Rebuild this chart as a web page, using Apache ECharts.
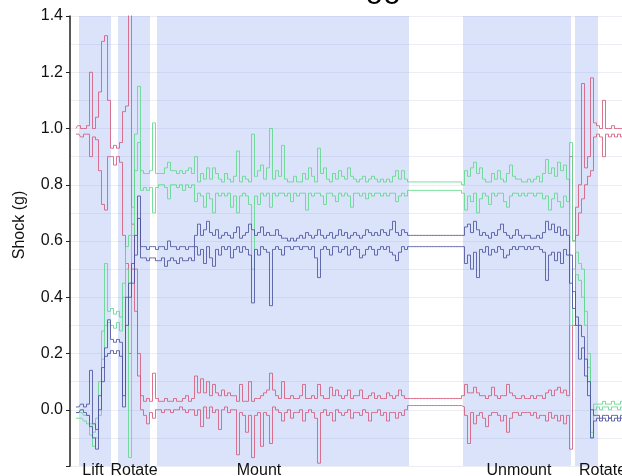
<!DOCTYPE html>
<html>
<head>
<meta charset="utf-8">
<script src="https://cdn.jsdelivr.net/npm/echarts@6/dist/echarts.min.js"></script>
<style>
  html, body { margin: 0; padding: 0; background: #fff; }
  #chart { width: 622px; height: 476px; }
</style>
</head>
<body>
<div id="chart"></div>
<script>
// sample clock: one sample every 3 time units, first one at t = 6
const T0 = 6
const DT = 3

// phases of the shock logger run: [name, start, end]
const phases = [
  ['Lift', 9, 41],
  ['Rotate', 48, 80],
  ['Mount', 87, 339],
  ['Unmount', 393, 501],
  ['Rotate', 505, 528]
]

// per-axis window max / min (g)
const redHigh = [
  1.00, 1.01, 1.00, 1.00, 1.01, 1.20, 1.00, 1.04, 1.13, 1.31,
  1.33, 1.10, 0.93, 0.94, 0.93, 0.95, 1.06, 1.08, 1.42, 0.66,
  0.50, 0.20, 0.05, 0.03, 0.04, 0.03, 0.13, 0.04, 0.03, 0.03,
  0.04, 0.03, 0.03, 0.04, 0.03, 0.03, 0.04, 0.05, 0.03, 0.04,
  0.12, 0.06, 0.11, 0.06, 0.10, 0.05, 0.09, 0.06, 0.05, 0.07,
  0.05, 0.06, 0.05, 0.05, 0.03, 0.09, 0.03, 0.03, 0.10, 0.03,
  0.04, 0.04, 0.05, 0.06, 0.07, 0.13, 0.07, 0.05, 0.04, 0.10,
  0.04, 0.04, 0.05, 0.04, 0.04, 0.05, 0.09, 0.04, 0.04, 0.05,
  0.04, 0.09, 0.05, 0.04, 0.04, 0.08, 0.05, 0.07, 0.05, 0.04,
  0.05, 0.07, 0.04, 0.05, 0.05, 0.07, 0.04, 0.04, 0.05, 0.06,
  0.04, 0.05, 0.04, 0.04, 0.06, 0.05, 0.04, 0.05, 0.07, 0.05,
  0.04, 0.04, 0.04, 0.04, 0.04, 0.04, 0.04, 0.04, 0.04, 0.04,
  0.04, 0.04, 0.04, 0.04, 0.04, 0.04, 0.04, 0.04, 0.04, 0.05,
  0.09, 0.06, 0.06, 0.08, 0.06, 0.05, 0.05, 0.04, 0.05, 0.08,
  0.05, 0.04, 0.05, 0.05, 0.09, 0.06, 0.05, 0.04, 0.04, 0.05,
  0.04, 0.04, 0.05, 0.04, 0.05, 0.05, 0.04, 0.06, 0.07, 0.05,
  0.07, 0.08, 0.06, 0.07, 0.05, 0.90, 0.60, 0.72, 0.80, 1.16,
  0.86, 0.90, 1.18, 1.02, 1.01, 1.00, 1.10, 1.00, 1.00, 1.01,
  1.00, 1.00, 1.00
]
const redLow = [
  0.98, 0.98, 0.97, 0.98, 0.98, 0.90, 0.97, 0.96, 0.85, 0.73,
  0.71, 0.90, 0.90, 0.87, 0.90, 0.88, 0.62, 0.52, 0.20, 0.50,
  0.35, 0.12, 0.00, -0.02, -0.05, -0.01, -0.03, 0.00, 0.00, -0.01,
  0.00, 0.00, -0.01, 0.00, 0.00, 0.01, 0.00, -0.01, 0.00, 0.00,
  -0.02, 0.00, -0.06, 0.01, -0.03, 0.01, -0.01, 0.00, -0.07, 0.00,
  0.01, -0.01, 0.00, 0.00, -0.16, -0.01, -0.02, -0.08, -0.02, -0.17,
  -0.02, -0.01, -0.13, -0.01, -0.02, -0.12, 0.01, 0.00, -0.01, -0.04,
  -0.01, 0.00, -0.03, -0.01, -0.01, 0.00, -0.04, -0.01, 0.00, -0.01,
  -0.03, -0.19, -0.01, 0.00, -0.02, -0.01, -0.04, 0.00, -0.01, -0.02,
  -0.01, 0.00, -0.03, -0.01, -0.01, -0.02, 0.00, -0.01, -0.04, -0.01,
  -0.01, 0.00, -0.02, -0.01, -0.04, -0.01, -0.01, -0.03, -0.01, -0.02,
  0.00, 0.015, 0.015, 0.015, 0.015, 0.015, 0.015, 0.015, 0.015, 0.015,
  0.015, 0.015, 0.015, 0.015, 0.015, 0.015, 0.015, 0.015, 0.015, 0.01,
  -0.02, -0.12, -0.01, -0.05, -0.02, -0.01, -0.03, -0.06, -0.02, -0.01,
  -0.01, -0.02, -0.04, -0.02, -0.08, -0.03, -0.01, -0.01, -0.02, -0.01,
  -0.01, -0.01, -0.02, -0.01, -0.03, -0.02, -0.02, -0.04, -0.01, -0.03,
  -0.02, -0.04, -0.02, -0.05, -0.02, -0.14, 0.30, 0.62, 0.70, 0.75,
  0.80, 0.83, 0.85, 0.97, 0.98, 0.97, 0.90, 0.98, 0.97, 0.98,
  0.97, 0.98, 0.97
]
const greenHigh = [
  -0.01, -0.01, -0.01, -0.02, -0.02, -0.05, -0.08, -0.03, 0.10, 0.28,
  0.52, 0.35, 0.36, 0.34, 0.35, 0.33, 0.45, 0.58, 0.62, 0.72,
  0.98, 1.15, 0.85, 0.84, 0.84, 0.85, 1.02, 0.84, 0.84, 0.84,
  0.86, 0.88, 0.85, 0.85, 0.84, 0.85, 0.84, 0.85, 0.86, 0.84,
  0.90, 0.81, 0.84, 0.82, 0.86, 0.82, 0.86, 0.84, 0.82, 0.81,
  0.84, 0.82, 0.81, 0.83, 0.92, 0.81, 0.83, 0.82, 0.81, 0.98,
  0.83, 0.85, 0.87, 0.82, 0.86, 1.00, 0.82, 0.85, 0.83, 0.94,
  0.82, 0.81, 0.81, 0.83, 0.81, 0.81, 0.84, 0.82, 0.86, 0.83,
  0.81, 0.93, 0.84, 0.86, 0.82, 0.81, 0.84, 0.82, 0.85, 0.83,
  0.82, 0.86, 0.83, 0.82, 0.81, 0.82, 0.83, 0.81, 0.82, 0.83,
  0.82, 0.81, 0.82, 0.81, 0.82, 0.81, 0.83, 0.85, 0.82, 0.85,
  0.82, 0.81, 0.81, 0.81, 0.81, 0.81, 0.81, 0.81, 0.81, 0.81,
  0.81, 0.81, 0.81, 0.81, 0.81, 0.81, 0.81, 0.81, 0.81, 0.80,
  0.85, 0.83, 0.86, 0.88, 0.84, 0.86, 0.82, 0.81, 0.81, 0.84,
  0.82, 0.85, 0.82, 0.81, 0.84, 0.87, 0.83, 0.82, 0.82, 0.81,
  0.81, 0.82, 0.81, 0.82, 0.83, 0.81, 0.84, 0.89, 0.84, 0.86,
  0.83, 0.88, 0.85, 0.87, 0.82, 0.95, 0.60, 0.56, 0.52, 0.50,
  0.35, 0.20, -0.08, 0.02, 0.02, 0.02, 0.03, 0.02, 0.02, 0.03,
  0.02, 0.02, 0.03
]
const greenLow = [
  -0.03, -0.03, -0.03, -0.04, -0.05, -0.09, -0.13, -0.10, -0.02, 0.18,
  0.30, 0.31, 0.30, 0.29, 0.31, 0.28, 0.40, 0.50, -0.17, 0.62,
  0.85, 0.95, 0.78, 0.79, 0.78, 0.79, 0.70, 0.79, 0.80, 0.80,
  0.79, 0.75, 0.80, 0.80, 0.79, 0.80, 0.78, 0.80, 0.79, 0.80,
  0.74, 0.77, 0.76, 0.72, 0.77, 0.75, 0.70, 0.77, 0.76, 0.77,
  0.76, 0.77, 0.72, 0.76, 0.70, 0.76, 0.77, 0.76, 0.73, 0.50,
  0.76, 0.73, 0.77, 0.76, 0.77, 0.72, 0.77, 0.76, 0.77, 0.77,
  0.76, 0.77, 0.74, 0.77, 0.76, 0.77, 0.77, 0.71, 0.77, 0.76,
  0.77, 0.77, 0.76, 0.73, 0.77, 0.77, 0.76, 0.74, 0.77, 0.76,
  0.77, 0.76, 0.72, 0.77, 0.77, 0.76, 0.77, 0.75, 0.77, 0.76,
  0.77, 0.77, 0.76, 0.77, 0.76, 0.77, 0.77, 0.74, 0.76, 0.77,
  0.76, 0.78, 0.78, 0.78, 0.78, 0.78, 0.78, 0.78, 0.78, 0.78,
  0.78, 0.78, 0.78, 0.78, 0.78, 0.78, 0.78, 0.78, 0.78, 0.77,
  0.71, 0.76, 0.74, 0.77, 0.70, 0.75, 0.77, 0.76, 0.73, 0.77,
  0.76, 0.77, 0.77, 0.74, 0.72, 0.76, 0.77, 0.77, 0.76, 0.77,
  0.76, 0.77, 0.77, 0.76, 0.77, 0.77, 0.75, 0.76, 0.71, 0.75,
  0.77, 0.74, 0.72, 0.76, 0.74, 0.30, 0.50, 0.48, 0.46, 0.40,
  0.30, 0.15, -0.10, 0.00, 0.01, 0.00, 0.01, 0.01, 0.00, 0.01,
  0.01, 0.00, 0.01
]
const blueHigh = [
  0.01, 0.01, 0.02, 0.01, 0.02, 0.14, -0.05, -0.07, 0.05, 0.15,
  0.22, 0.32, 0.25, 0.24, 0.25, 0.24, 0.01, 0.40, 0.45, 0.52,
  0.62, 0.76, 0.58, 0.58, 0.57, 0.58, 0.58, 0.57, 0.58, 0.58,
  0.57, 0.60, 0.58, 0.58, 0.57, 0.58, 0.58, 0.57, 0.58, 0.58,
  0.62, 0.66, 0.62, 0.64, 0.67, 0.63, 0.62, 0.64, 0.61, 0.62,
  0.63, 0.62, 0.61, 0.63, 0.65, 0.61, 0.62, 0.63, 0.66, 0.64,
  0.62, 0.63, 0.65, 0.62, 0.63, 0.62, 0.62, 0.64, 0.62, 0.61,
  0.61, 0.60, 0.61, 0.60, 0.61, 0.62, 0.61, 0.63, 0.62, 0.61,
  0.62, 0.64, 0.62, 0.61, 0.62, 0.63, 0.61, 0.62, 0.64, 0.62,
  0.63, 0.61, 0.62, 0.63, 0.62, 0.61, 0.62, 0.64, 0.63, 0.62,
  0.63, 0.62, 0.64, 0.63, 0.62, 0.64, 0.67, 0.63, 0.62, 0.64,
  0.63, 0.62, 0.62, 0.62, 0.62, 0.62, 0.62, 0.62, 0.62, 0.62,
  0.62, 0.62, 0.62, 0.62, 0.62, 0.62, 0.62, 0.62, 0.62, 0.62,
  0.65, 0.66, 0.63, 0.67, 0.64, 0.62, 0.63, 0.62, 0.61, 0.63,
  0.62, 0.64, 0.66, 0.63, 0.62, 0.61, 0.62, 0.64, 0.62, 0.61,
  0.62, 0.62, 0.61, 0.61, 0.62, 0.61, 0.63, 0.67, 0.64, 0.66,
  0.63, 0.65, 0.62, 0.64, 0.62, 0.55, 0.42, 0.33, 0.30, 0.26,
  0.18, 0.10, 0.00, -0.02, -0.02, -0.03, -0.02, -0.02, -0.03, -0.02,
  -0.02, -0.03, -0.02
]
const blueLow = [
  -0.01, -0.01, 0.00, -0.01, -0.02, -0.06, -0.10, -0.14, 0.00, 0.10,
  0.19, 0.20, 0.21, 0.20, 0.21, 0.19, 0.05, 0.30, 0.40, 0.45,
  0.55, 0.68, 0.54, 0.54, 0.53, 0.54, 0.54, 0.53, 0.53, 0.54,
  0.51, 0.53, 0.54, 0.53, 0.52, 0.54, 0.53, 0.53, 0.54, 0.53,
  0.58, 0.55, 0.57, 0.52, 0.58, 0.54, 0.51, 0.57, 0.55, 0.58,
  0.57, 0.58, 0.54, 0.57, 0.58, 0.56, 0.58, 0.57, 0.55, 0.38,
  0.57, 0.55, 0.58, 0.57, 0.56, 0.37, 0.57, 0.58, 0.57, 0.55,
  0.58, 0.58, 0.57, 0.58, 0.58, 0.57, 0.58, 0.58, 0.57, 0.58,
  0.54, 0.47, 0.57, 0.58, 0.57, 0.55, 0.58, 0.58, 0.56, 0.57,
  0.58, 0.55, 0.57, 0.58, 0.57, 0.54, 0.55, 0.57, 0.58, 0.57,
  0.55, 0.57, 0.58, 0.57, 0.58, 0.56, 0.55, 0.53, 0.56, 0.58,
  0.57, 0.58, 0.58, 0.58, 0.58, 0.58, 0.58, 0.58, 0.58, 0.58,
  0.58, 0.58, 0.58, 0.58, 0.58, 0.58, 0.58, 0.58, 0.58, 0.58,
  0.52, 0.55, 0.50, 0.56, 0.47, 0.57, 0.56, 0.58, 0.55, 0.57,
  0.56, 0.58, 0.57, 0.54, 0.55, 0.57, 0.58, 0.57, 0.58, 0.58,
  0.57, 0.58, 0.57, 0.58, 0.58, 0.57, 0.56, 0.46, 0.55, 0.56,
  0.53, 0.56, 0.52, 0.57, 0.55, 0.45, 0.36, 0.30, 0.18, 0.22,
  0.12, 0.05, -0.10, -0.04, -0.03, -0.04, -0.03, -0.04, -0.03, -0.04,
  -0.03, -0.04, -0.03
]

const RED = '#d65a7a'
const GREEN = '#5fd98a'
const BLUE = '#4d539f'

// label nudges for the phase names under the shaded bands
const phaseLabelShift = [-2, 0, -24, 2, 16]

const chart = echarts.init(document.getElementById('chart'))

const times = redHigh.map((_, i) => T0 + i * DT)
const pairs = values => values.map((v, i) => [times[i], v])

const traceSeries = (name, values, color) => ({
  name: name,
  type: 'line',
  data: pairs(values),
  step: 'middle',
  showSymbol: false,
  symbol: 'none',
  silent: true,
  z: 3,
  lineStyle: { color: color, width: 1, opacity: 0.85 }
})

const option = {
  animation: false,
  graphic: [
    {
      type: 'text',
      x: 369,
      y: -12,
      style: {
        text: 'Shock Logger Data',
        fontSize: 32,
        fontFamily: 'Liberation Sans, Arial, sans-serif',
        fill: '#000',
        align: 'center',
        verticalAlign: 'middle'
      }
    },
    {
      type: 'text',
      x: 20,
      y: 225,
      rotation: Math.PI / 2,
      style: {
        text: 'Shock (g)',
        fontSize: 16,
        fontFamily: 'Liberation Sans, Arial, sans-serif',
        fill: '#111',
        align: 'center',
        verticalAlign: 'middle'
      }
    }
  ],
  grid: { left: 70, right: 0, top: 16, bottom: 10 },
  xAxis: {
    type: 'value',
    min: 0,
    max: 552,
    show: false
  },
  yAxis: {
    type: 'value',
    min: -0.2,
    max: 1.4,
    interval: 0.2,
    axisLine: { show: true, lineStyle: { color: '#222', width: 1.5 } },
    axisTick: { show: true, length: 4, lineStyle: { color: '#222' } },
    axisLabel: {
      margin: 7,
      fontSize: 16,
      color: '#111',
      fontFamily: 'Liberation Sans, Arial, sans-serif',
      formatter: v => (v < -0.01 ? '' : v.toFixed(1))
    },
    splitLine: { show: true, lineStyle: { color: '#eceef4', width: 1 } },
    minorTick: { show: false, splitNumber: 2 },
    minorSplitLine: { show: true, lineStyle: { color: '#eceef4', width: 1 } }
  },
  series: [
    {
      name: 'phases',
      type: 'line',
      data: [],
      silent: true,
      clip: false,
      z: 1,
      markArea: {
        silent: true,
        itemStyle: { color: 'rgba(110, 145, 240, 0.25)' },
        label: {
          show: true,
          position: 'bottom',
          distance: -3,
          fontSize: 16,
          color: '#111',
          fontFamily: 'Liberation Sans, Arial, sans-serif'
        },
        data: phases.map((p, k) => [
          { name: p[0], xAxis: p[1], label: { offset: [phaseLabelShift[k], 0] } },
          { xAxis: p[2] }
        ])
      }
    },
    traceSeries('Z max', redHigh, RED),
    traceSeries('Z min', redLow, RED),
    traceSeries('Y max', greenHigh, GREEN),
    traceSeries('Y min', greenLow, GREEN),
    traceSeries('X max', blueHigh, BLUE),
    traceSeries('X min', blueLow, BLUE)
  ]
}

chart.setOption(option)
</script>
</body>
</html>
